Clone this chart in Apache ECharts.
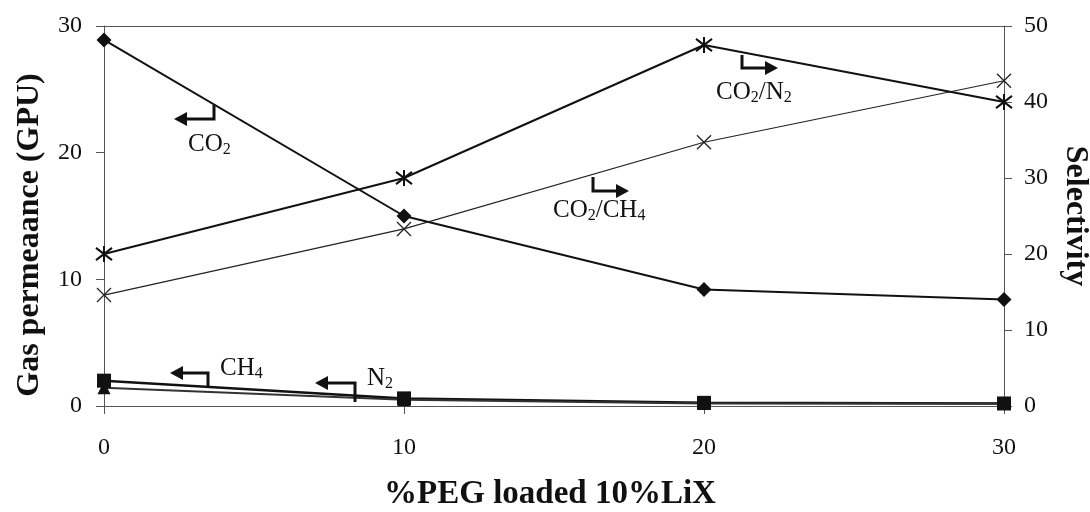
<!DOCTYPE html>
<html>
<head>
<meta charset="utf-8">
<script src="https://cdn.jsdelivr.net/npm/echarts@6/dist/echarts.min.js"></script>
<style>
html,body{margin:0;padding:0;background:#fff;}
#c{width:1090px;height:512px;}
</style>
</head>
<body>
<div id="c"></div>
<script>
// ---- data ----
const xValues = [0, 10, 20, 30];
const co2 = [28.9, 15.0, 9.2, 8.4];
const ch4 = [2.0, 0.6, 0.25, 0.2];
const n2 = [1.45, 0.5, 0.2, 0.2];
const selCO2CH4 = [14.6, 23.3, 34.7, 42.8];
const selCO2N2 = [20.0, 30.0, 47.5, 40.0];
const xTicks = [0, 10, 20, 30];
const leftTicks = [0, 10, 20, 30];
const rightTicks = [0, 10, 20, 30, 40, 50];

const pairs = (ys) => xValues.map((x, i) => [x, ys[i]]);

const FONT = '"Liberation Serif", "DejaVu Serif", serif';
const INK = '#111';
const AX = '#555';

const starPath = 'path://M0,0L10,10M0,10L10,0M5,-1.5L5,11.5';
const crossPath = 'path://M0,0L10,10M0,10L10,0';

const chart = echarts.init(document.getElementById('c'), null, {renderer: 'canvas'});

function axisCommon() {
  return {
    axisLine: {show: true, onZero: false, lineStyle: {color: AX, width: 1}},
    axisTick: {show: true, inside: false, length: 8, lineStyle: {color: AX, width: 1}},
    minorTick: {show: false},
    splitLine: {show: false},
    axisLabel: {color: '#111', fontFamily: FONT, fontSize: 24},
    nameTextStyle: {color: '#111', fontFamily: FONT, fontSize: 32, fontWeight: 'bold'}
  };
}

const richStyles = {
  n: {fontFamily: FONT, fontSize: 25, color: '#111', lineHeight: 28},
  s: {fontFamily: FONT, fontSize: 16, color: '#111', lineHeight: 10, verticalAlign: 'bottom'}
};

function arrowEls(pts, tip, dir) {
  const baseX = tip[0] - dir * 13;
  return [
    {type: 'polyline', shape: {points: pts}, style: {stroke: INK, lineWidth: 3, fill: null}, z: 10},
    {type: 'polygon', shape: {points: [tip, [baseX, tip[1] - 7], [baseX, tip[1] + 7]]}, style: {fill: INK}, z: 10}
  ];
}

function textEl(x, y, txt) {
  return {type: 'text', x: x, y: y, z: 10,
    style: {text: txt, rich: richStyles, verticalAlign: 'middle', align: 'left', fill: '#111'}};
}

const graphics = [].concat(
  arrowEls([[214, 105], [214, 119], [186, 119]], [174, 119], -1),
  [textEl(188, 144, '{n|CO}{s|2}')],
  arrowEls([[208, 388], [208, 373], [182, 373]], [170, 373], -1),
  [textEl(220, 368, '{n|CH}{s|4}')],
  arrowEls([[355, 402], [355, 383], [327, 383]], [315, 383], -1),
  [textEl(367, 378, '{n|N}{s|2}')],
  arrowEls([[593, 177], [593, 191], [616, 191]], [629, 191], 1),
  [textEl(553, 210, '{n|CO}{s|2}{n|/CH}{s|4}')],
  arrowEls([[742, 55], [742, 68], [765, 68]], [778, 68], 1),
  [textEl(716, 92, '{n|CO}{s|2}{n|/N}{s|2}')]
);

const option = {
  backgroundColor: '#fff',
  animation: false,
  grid: {left: 104, right: 86, top: 26, bottom: 106, show: false, containLabel: false, outerBoundsMode: 'none'},
  xAxis: [
    Object.assign(axisCommon(), {
      type: 'value', min: xTicks[0], max: xTicks[xTicks.length - 1], interval: 10,
      position: 'bottom',
      name: '%PEG loaded 10%LiX', nameLocation: 'middle', nameGap: 72,
      nameTextStyle: {color: '#111', fontFamily: FONT, fontSize: 33, fontWeight: 'bold', padding: [0, 8, 0, 0]},
      axisLabel: {color: '#111', fontFamily: FONT, fontSize: 24, margin: 30}
    }),
    {
      type: 'value', min: xTicks[0], max: xTicks[xTicks.length - 1], position: 'top',
      axisLine: {show: true, onZero: false, lineStyle: {color: AX, width: 1}},
      axisTick: {show: false}, axisLabel: {show: false}, splitLine: {show: false}
    }
  ],
  yAxis: [
    Object.assign(axisCommon(), {
      type: 'value', min: leftTicks[0], max: leftTicks[leftTicks.length - 1], interval: 10,
      position: 'left',
      name: 'Gas permeaance (GPU)', nameLocation: 'middle', nameGap: 58, nameRotate: 90,
      nameTextStyle: {color: '#111', fontFamily: FONT, fontSize: 32, fontWeight: 'bold', padding: [0, 38, 0, 0]},
      axisLabel: {color: '#111', fontFamily: FONT, fontSize: 24, margin: 22}
    }),
    Object.assign(axisCommon(), {
      type: 'value', min: rightTicks[0], max: rightTicks[rightTicks.length - 1], interval: 10,
      position: 'right',
      name: 'Selectivity', nameLocation: 'middle', nameGap: 53, nameRotate: -90,
      axisLabel: {color: '#111', fontFamily: FONT, fontSize: 24, margin: 20}
    })
  ],
  series: [
    {
      name: 'CO2', type: 'line', xAxisIndex: 0, yAxisIndex: 0, data: pairs(co2),
      symbol: 'diamond', symbolSize: 15, clip: false,
      lineStyle: {color: INK, width: 2}, itemStyle: {color: INK}
    },
    {
      name: 'CH4', type: 'line', xAxisIndex: 0, yAxisIndex: 0, data: pairs(ch4),
      symbol: 'rect', symbolSize: 14, clip: false,
      lineStyle: {color: INK, width: 2.5}, itemStyle: {color: INK}
    },
    {
      name: 'N2', type: 'line', xAxisIndex: 0, yAxisIndex: 0, data: pairs(n2),
      symbol: 'triangle', symbolSize: 13, clip: false,
      lineStyle: {color: '#333', width: 2}, itemStyle: {color: INK}
    },
    {
      name: 'CO2/CH4', type: 'line', xAxisIndex: 0, yAxisIndex: 1, data: pairs(selCO2CH4),
      symbol: crossPath, symbolSize: 14, clip: false,
      lineStyle: {color: '#222', width: 1.2},
      itemStyle: {color: 'none', borderColor: '#222', borderWidth: 1.3}
    },
    {
      name: 'CO2/N2', type: 'line', xAxisIndex: 0, yAxisIndex: 1, data: pairs(selCO2N2),
      symbol: starPath, symbolSize: 16, clip: false,
      lineStyle: {color: INK, width: 2},
      itemStyle: {color: 'none', borderColor: INK, borderWidth: 2}
    }
  ],
  graphic: graphics
};

chart.setOption(option);
</script>
</body>
</html>
